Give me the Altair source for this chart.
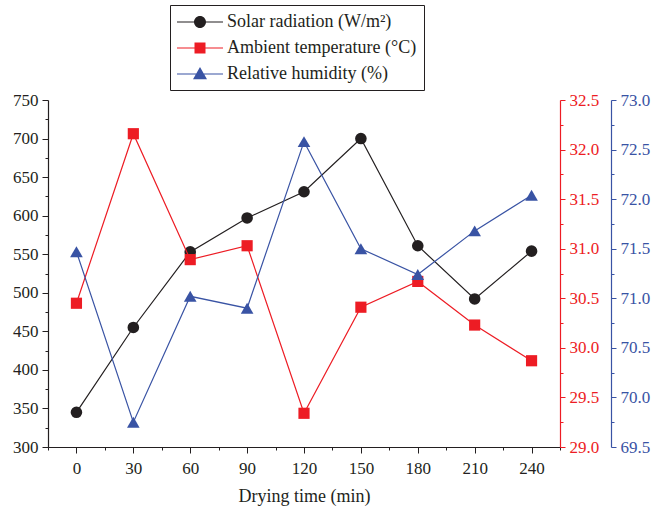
import altair as alt
import pandas as pd

# ---- data ----
time = [0, 30, 60, 90, 120, 150, 180, 210, 240]
solar = [345, 455, 553, 597, 631, 700, 561, 492, 554]
temp = [30.45, 32.16, 30.89, 31.03, 29.34, 30.41, 30.67, 30.23, 29.87]
rh = [71.47, 69.75, 71.02, 70.90, 72.58, 71.50, 71.24, 71.68, 72.04]

series_names = ["Solar radiation (W/m²)", "Ambient temperature (°C)", "Relative humidity (%)"]
colors = ["#231f20", "#ed1c24", "#3953a4"]

x_ticks = [-15, 0, 15, 30, 45, 60, 75, 90, 105, 120, 135, 150, 165, 180, 195, 210, 225, 240, 255]
solar_ticks = [300, 325, 350, 375, 400, 425, 450, 475, 500, 525, 550, 575, 600, 625, 650, 675, 700, 725, 750]
temp_ticks = [29.0, 29.25, 29.5, 29.75, 30.0, 30.25, 30.5, 30.75, 31.0, 31.25, 31.5, 31.75, 32.0, 32.25, 32.5]
rh_ticks = [69.5, 69.75, 70.0, 70.25, 70.5, 70.75, 71.0, 71.25, 71.5, 71.75, 72.0, 72.25, 72.5, 72.75, 73.0]

FONT = "Liberation Serif"

df = pd.DataFrame({"time": time, "solar": solar, "temp": temp, "rh": rh})

x_enc = alt.X(
    "time:Q",
    scale=alt.Scale(domain=[-15, 255], nice=False, zero=False),
    axis=alt.Axis(
        values=x_ticks,
        title="Drying time (min)",
        labelExpr="datum.value % 30 === 0 ? datum.label : ''",
        labelOverlap=False,
        tickSize={"condition": {"test": "datum.value % 30 === 0", "value": 6}, "value": 3},
        labelPadding=7,
        titlePadding=11,
        grid=False,
    ),
)

half_test = "abs(datum.value*2 - round(datum.value*2)) < 0.001"


def right_axis(color, offset):
    return alt.Axis(
        orient="right",
        offset=offset,
        title=None,
        grid=False,
        labelOverlap=False,
        labelExpr=f"{half_test} ? format(datum.value, '.1f') : ''",
        tickSize={"condition": {"test": half_test, "value": 5}, "value": 3},
        domainColor=color,
        tickColor=color,
        labelColor=color,
        labelPadding=4,
    )


solar_layer = alt.Chart(df).mark_line(
    color=colors[0], strokeWidth=1.2,
    point=alt.OverlayMarkDef(shape="circle", size=135, filled=True, color=colors[0], opacity=1),
).encode(
    x=x_enc,
    y=alt.Y(
        "solar:Q",
        scale=alt.Scale(domain=[300, 750], nice=False, zero=False),
        axis=alt.Axis(
            orient="left", title=None, values=solar_ticks, grid=False, labelOverlap=False,
            labelExpr="datum.value % 50 === 0 ? datum.label : ''",
            tickSize={"condition": {"test": "datum.value % 50 === 0", "value": 6}, "value": 3},
            labelPadding=4,
        ),
    ),
)

temp_layer = alt.Chart(df).mark_line(
    color=colors[1], strokeWidth=1.2,
    point=alt.OverlayMarkDef(shape="square", size=125, filled=True, color=colors[1], opacity=1),
).encode(
    x=x_enc,
    y=alt.Y(
        "temp:Q",
        scale=alt.Scale(domain=[29.0, 32.5], nice=False, zero=False),
        axis=alt.Axis(values=temp_ticks, **{k: v for k, v in right_axis(colors[1], 0).to_dict().items()}),
    ),
)

rh_layer = alt.Chart(df).mark_line(
    color=colors[2], strokeWidth=1.2,
    point=alt.OverlayMarkDef(shape="triangle-up", size=160, filled=True, color=colors[2], opacity=1),
).encode(
    x=x_enc,
    y=alt.Y(
        "rh:Q",
        scale=alt.Scale(domain=[69.5, 73.0], nice=False, zero=False),
        axis=alt.Axis(values=rh_ticks, **{k: v for k, v in right_axis(colors[2], 51).to_dict().items()}),
    ),
)

# legend symbols: short line with marker (custom paths, unit = sqrt(size)/2 px)
line_part = "M-1,-0.06H3.6V0.06H-1Z "
legend_paths = [
    line_part + "M1.9,0A0.6,0.6 0 1,1 0.7,0A0.6,0.6 0 1,1 1.9,0Z",
    line_part + "M0.75,-0.55H1.85V0.55H0.75Z",
    line_part + "M1.3,-0.7L2.0,0.52L0.6,0.52Z",
]

legend_props = dict(
    orient="none", legendX=122, legendY=-95, title=None,
    strokeColor="#231f20", fillColor="white", padding=7, cornerRadius=0,
    labelFont=FONT, labelFontSize=18, labelColor="#231f20",
    symbolSize=400, symbolStrokeWidth=0, symbolOpacity=1, labelOffset=30, rowPadding=7,
    labelLimit=400,
)

leg_df = pd.DataFrame({"series": series_names})
legend_layer = alt.Chart(leg_df).mark_point(filled=True, opacity=1).encode(
    color=alt.Color("series:N", scale=alt.Scale(domain=series_names, range=colors),
                    legend=alt.Legend(**legend_props)),
    shape=alt.Shape("series:N", scale=alt.Scale(domain=series_names, range=legend_paths),
                    legend=alt.Legend(**legend_props)),
).transform_filter("false")

chart = alt.layer(solar_layer, temp_layer, rh_layer, legend_layer).resolve_scale(
    y="independent"
).properties(
    width=512, height=347,
    padding={"left": 48, "top": 100, "right": 93, "bottom": 62},
    autosize="none",
).configure_view(stroke=None).configure_axis(
    labelFont=FONT, labelFontSize=17, labelColor="#231f20",
    titleFont=FONT, titleFontSize=18, titleColor="#231f20", titleFontWeight="normal",
    domainColor="#231f20", tickColor="#231f20", domainWidth=1.2, tickWidth=1,
)

chart.save("out.html", embed_options={"renderer": "svg", "actions": False})
